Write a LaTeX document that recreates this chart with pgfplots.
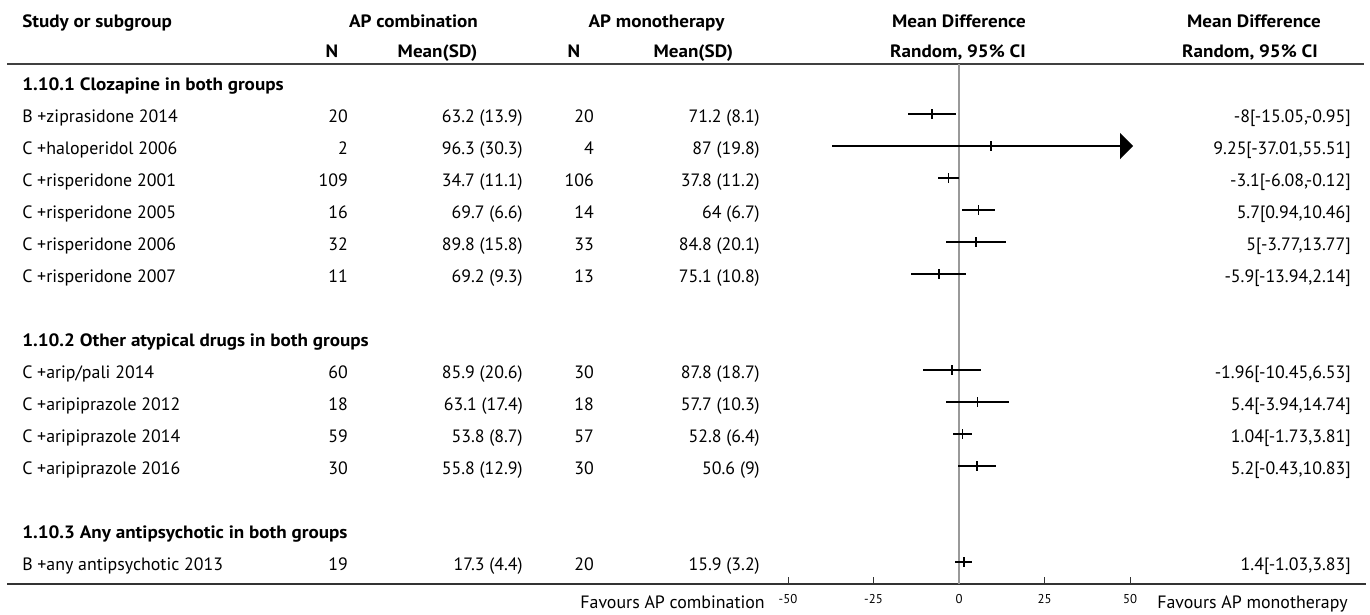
\documentclass[border=0pt]{standalone}
\usepackage{fontspec}
\setmainfont{PT Sans}[BoldFeatures={FakeStretch=1.07}]
\usepackage{pgfplots}
\usepackage{pgfplotstable}
\pgfplotsset{compat=1.18}
\usetikzlibrary{arrows.meta}

% Mean differences with 95% CI, one line per study (row index k)
\pgfplotstableread{
k md lo hi
1 -8 -15.05 -0.95
3 -3.1 -6.08 -0.12
4 5.7 0.94 10.46
5 5 -3.77 13.77
6 -5.9 -13.94 2.14
9 -1.96 -10.45 6.53
10 5.4 -3.94 14.74
11 1.04 -1.73 3.81
12 5.2 -0.43 10.83
15 1.4 -1.03 3.83
}\cidata

\pgfplotstableread{
k md
1 -8
2 9.25
3 -3.1
4 5.7
5 5
6 -5.9
9 -1.96
10 5.4
11 1.04
12 5.2
15 1.4
}\mddata

\newcommand\bodyfont{\fontsize{13.4pt}{16pt}\selectfont}
\newcommand\studyrow[7]{%
  \node[anchor=base west] at (22,{90+32*#1}) {#2};
  \node[anchor=base east] at (348,{90+32*#1}) {#3};
  \node[anchor=base east] at (523,{90+32*#1}) {#4};
  \node[anchor=base east] at (594,{90+32*#1}) {#5};
  \node[anchor=base east] at (760,{90+32*#1}) {#6};
  \node[anchor=base east] at (1351,{90+32*#1}) {#7};
}
\newcommand\grouprow[2]{%
  \node[anchor=base west, font=\bodyfont\bfseries] at (22,{90+32*#1}) {#2};
}

\begin{document}
\begin{tikzpicture}[x=0.75pt, y=-0.75pt,
  every node/.style={inner sep=0pt, font=\bodyfont}]
\useasboundingbox (0,0) rectangle (1370,614);

% column headings
\begin{scope}[every node/.style={inner sep=0pt, font=\bodyfont\bfseries}]
\node[anchor=base west] at (22,27.3) {Study or subgroup};
\node[anchor=base] at (413.5,27.3) {AP combination};
\node[anchor=base] at (656.5,27.3) {AP monotherapy};
\node[anchor=base] at (959,27.3) {Mean Difference};
\node[anchor=base] at (1254,27.3) {Mean Difference};
\node[anchor=base] at (332,57.3) {N};
\node[anchor=base] at (437.5,57.3) {Mean(SD)};
\node[anchor=base] at (574,57.3) {N};
\node[anchor=base] at (693.3,57.3) {Mean(SD)};
\node[anchor=base] at (958,57.3) {Random, 95\% CI};
\node[anchor=base] at (1250,57.3) {Random, 95\% CI};
\end{scope}

% rules
\draw[line width=1.5pt, black!75] (7,63.5) -- (1364,63.5);
\draw[line width=1.5pt, black!80] (7,584) -- (1366,584);

% table body
\grouprow{0}{1.10.1 Clozapine in both groups}
\studyrow{1}{B +ziprasidone 2014}{20}{63.2 (13.9)}{20}{71.2 (8.1)}{-8[-15.05,-0.95]}
\studyrow{2}{C +haloperidol 2006}{2}{96.3 (30.3)}{4}{87 (19.8)}{9.25[-37.01,55.51]}
\studyrow{3}{C +risperidone 2001}{109}{34.7 (11.1)}{106}{37.8 (11.2)}{-3.1[-6.08,-0.12]}
\studyrow{4}{C +risperidone 2005}{16}{69.7 (6.6)}{14}{64 (6.7)}{5.7[0.94,10.46]}
\studyrow{5}{C +risperidone 2006}{32}{89.8 (15.8)}{33}{84.8 (20.1)}{5[-3.77,13.77]}
\studyrow{6}{C +risperidone 2007}{11}{69.2 (9.3)}{13}{75.1 (10.8)}{-5.9[-13.94,2.14]}
\grouprow{8}{1.10.2 Other atypical drugs in both groups}
\studyrow{9}{C +arip/pali 2014}{60}{85.9 (20.6)}{30}{87.8 (18.7)}{-1.96[-10.45,6.53]}
\studyrow{10}{C +aripiprazole 2012}{18}{63.1 (17.4)}{18}{57.7 (10.3)}{5.4[-3.94,14.74]}
\studyrow{11}{C +aripiprazole 2014}{59}{53.8 (8.7)}{57}{52.8 (6.4)}{1.04[-1.73,3.81]}
\studyrow{12}{C +aripiprazole 2016}{30}{55.8 (12.9)}{30}{50.6 (9)}{5.2[-0.43,10.83]}
\grouprow{14}{1.10.3 Any antipsychotic in both groups}
\studyrow{15}{B +any antipsychotic 2013}{19}{17.3 (4.4)}{20}{15.9 (3.2)}{1.4[-1.03,3.83]}

\node[anchor=base east] at (765,608.5) {Favours AP combination};
\node[anchor=base west] at (1157,608.5) {Favours AP monotherapy};

\coordinate (plotorigin) at (788,584);
\begin{axis}[
  at={(plotorigin)}, anchor=south west,
  scale only axis, width=256.5pt, height=390pt,
  xmin=-50, xmax=50, ymin=-0.5625, ymax=15.6875, y dir=reverse,
  clip=false,
  axis x line=bottom, axis y line=none,
  x axis line style={draw=none, -},
  xtick={-50,-25,0,25,50},
  xticklabels={-50,-25,0,25,50},
  xtick align=inside,
  major tick length=5.25pt,
  xtick style={black!80, line width=0.75pt},
  xticklabel style={font=\fontsize{9.6pt}{11pt}\selectfont, anchor=base, inner sep=0pt, yshift=-14.25pt},
]
% line of no effect
\addplot[black!40, line width=1.1pt] coordinates {(0,-0.5625) (0,15.6875)};
% confidence intervals
\addplot[draw=none, mark=none,
  error bars/.cd, x dir=both, x explicit, error mark=none,
  error bar style={black, line width=1.1pt}]
  table[x=md, y=k,
    x error plus expr=\thisrow{hi}-\thisrow{md},
    x error minus expr=\thisrow{md}-\thisrow{lo}] {\cidata};
% interval running past the axis range
\addplot[black, line width=1.1pt, -{Triangle[length=9.75pt, width=19.5pt]}]
  coordinates {(-37.01,2) (50.9,2)};
% point estimates
\addplot[only marks, mark=|, mark size=3.4pt, mark options={black, line width=1.3pt}]
  table[x=md, y=k] {\mddata};
\end{axis}
\end{tikzpicture}
\end{document}
